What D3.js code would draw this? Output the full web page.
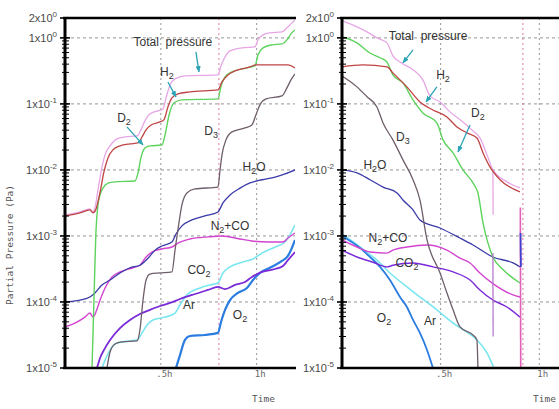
<!DOCTYPE html>
<html>
<head>
<meta charset="utf-8">
<script src="https://cdn.jsdelivr.net/npm/d3@7"></script>
<style>
  body { margin: 0; background: #fff; }
  svg { display: block; font-family: "Liberation Sans", Arial, sans-serif; }
</style>
</head>
<body>
<svg id="chart" width="559" height="409"></svg>
<script>
// tick values / labels
const timeTicks = [0.5, 1];
const timeLabels = [".5h", "1h"];
const pressTicks = [2, 1, 0.1, 0.01, 1e-3, 1e-4, 1e-5];
const pressLabels = [["2x10", "0"], ["1x10", "0"], ["1x10", "-1"], ["1x10", "-2"], ["1x10", "-3"], ["1x10", "-4"], ["1x10", "-5"]];

// ---- left panel: [time (h), partial pressure (Pa)] ----
const leftTotal = [[0,0.00208],[0.078,0.00231],[0.13,0.00256],[0.146,0.00231],[0.156,0.00266],[0.172,0.00498],[0.188,0.0093],[0.209,0.0169],[0.235,0.0231],[0.271,0.0295],[0.313,0.0316],[0.376,0.0327],[0.396,0.0404],[0.417,0.0553],[0.443,0.0705],[0.485,0.0783],[0.511,0.0839],[0.527,0.123],[0.548,0.194],[0.574,0.239],[0.626,0.265],[0.798,0.275],[0.814,0.377],[0.835,0.515],[0.861,0.635],[0.923,0.705],[0.991,0.73],[1.007,0.933],[1.033,1.11],[1.069,1.19],[1.132,1.23],[1.158,1.42],[1.179,1.63],[1.2,1.87]];
const leftH2 = [[0,0.00201],[0.078,0.00223],[0.13,0.00248],[0.146,0.00223],[0.162,0.00256],[0.183,0.00464],[0.203,0.0093],[0.224,0.0152],[0.25,0.0201],[0.287,0.0231],[0.339,0.0248],[0.381,0.0256],[0.402,0.0316],[0.423,0.0404],[0.449,0.048],[0.496,0.0534],[0.516,0.0573],[0.537,0.09],[0.558,0.123],[0.589,0.142],[0.652,0.152],[0.798,0.163],[0.819,0.215],[0.85,0.275],[0.887,0.316],[0.965,0.364],[0.996,0.39],[1.069,0.39],[1.163,0.39],[1.2,0.351]];
const leftD2 = [[0.141,1e-5],[0.151,0.000107],[0.162,0.00123],[0.172,0.00295],[0.183,0.0042],[0.198,0.0053],[0.224,0.0063],[0.261,0.0066],[0.365,0.0068],[0.381,0.009],[0.396,0.0152],[0.417,0.0215],[0.443,0.0231],[0.506,0.0239],[0.522,0.0339],[0.543,0.068],[0.569,0.104],[0.61,0.115],[0.798,0.119],[0.814,0.187],[0.835,0.256],[0.871,0.305],[0.949,0.351],[0.991,0.377],[1.007,0.553],[1.033,0.705],[1.08,0.783],[1.132,0.81],[1.158,0.933],[1.179,1.15],[1.2,1.32]];
const leftD3 = [[0.219,1e-5],[0.235,0.0000175],[0.261,0.0000231],[0.297,0.0000248],[0.376,0.0000257],[0.391,0.0000377],[0.407,0.000107],[0.423,0.000215],[0.443,0.000265],[0.496,0.000275],[0.558,0.000285],[0.574,0.00061],[0.589,0.00123],[0.61,0.00295],[0.636,0.00448],[0.678,0.00515],[0.798,0.0055],[0.809,0.01],[0.819,0.0169],[0.84,0.0285],[0.871,0.0377],[0.939,0.0433],[0.975,0.048],[0.996,0.068],[1.017,0.0966],[1.049,0.119],[1.132,0.132],[1.158,0.175],[1.179,0.231],[1.2,0.285]];
const leftH2O = [[0,0.0001],[0.078,0.000107],[0.13,0.000119],[0.156,0.000137],[0.193,0.000181],[0.235,0.000215],[0.287,0.000275],[0.339,0.00033],[0.391,0.00036],[0.433,0.00046],[0.47,0.00061],[0.506,0.000705],[0.558,0.00081],[0.579,0.00107],[0.61,0.00142],[0.662,0.00175],[0.73,0.00201],[0.798,0.00231],[0.824,0.00316],[0.861,0.00418],[0.913,0.0053],[0.965,0.00635],[1.028,0.0071],[1.096,0.0078],[1.148,0.0087],[1.2,0.01]];
const leftN2CO = [[0,0.000042],[0.052,0.000048],[0.104,0.000059],[0.13,0.000068],[0.146,0.000059],[0.162,0.000071],[0.183,0.000107],[0.209,0.000163],[0.245,0.000239],[0.287,0.000285],[0.355,0.00033],[0.391,0.00036],[0.423,0.00048],[0.454,0.00057],[0.506,0.000635],[0.558,0.00068],[0.589,0.00078],[0.652,0.0009],[0.746,0.00097],[0.819,0.001],[0.913,0.0009],[0.975,0.00084],[1.059,0.00081],[1.137,0.00081],[1.163,0.00093],[1.2,0.00111]];
const leftCO2 = [[0.167,1e-5],[0.183,0.0000142],[0.203,0.0000187],[0.235,0.0000266],[0.287,0.0000403],[0.339,0.0000534],[0.391,0.0000658],[0.443,0.000076],[0.496,0.0000869],[0.548,0.0000966],[0.6,0.000111],[0.678,0.000132],[0.746,0.000152],[0.798,0.000169],[0.835,0.000157],[0.887,0.000181],[0.939,0.000201],[0.975,0.000239],[1.028,0.000285],[1.096,0.000316],[1.137,0.00035],[1.163,0.00043],[1.2,0.00057]];
const leftAr = [[0.193,1e-5],[0.214,0.0000142],[0.235,0.0000187],[0.271,0.0000239],[0.339,0.0000257],[0.376,0.0000266],[0.402,0.000034],[0.428,0.0000449],[0.459,0.0000534],[0.522,0.000059],[0.574,0.000068],[0.6,0.00009],[0.636,0.000128],[0.704,0.000163],[0.757,0.000181],[0.798,0.000194],[0.824,0.000275],[0.861,0.00034],[0.923,0.0004],[0.981,0.000449],[1.028,0.00055],[1.096,0.00068],[1.148,0.00081],[1.174,0.00104],[1.2,0.00147]];
const leftO2 = [[0.579,1e-5],[0.6,0.0000157],[0.626,0.0000266],[0.652,0.0000305],[0.73,0.0000316],[0.798,0.000034],[0.814,0.0000498],[0.835,0.000076],[0.861,0.000107],[0.902,0.000137],[0.949,0.000163],[0.981,0.000215],[1.017,0.000275],[1.069,0.00033],[1.132,0.000418],[1.163,0.000498],[1.184,0.00066],[1.2,0.00087]];

// ---- right panel ----
const rightTotal = [[0,1.81],[0.076,1.47],[0.127,1.23],[0.177,1.0],[0.228,0.84],[0.258,0.534],[0.294,0.43],[0.36,0.33],[0.41,0.231],[0.446,0.132],[0.497,0.107],[0.547,0.0757],[0.613,0.0534],[0.664,0.039],[0.699,0.0305],[0.735,0.0169],[0.765,0.01],[0.836,0.0066],[0.902,0.00533]];
const rightTotalDrop = [[0.765,0.01],[0.766,0.0021]];
const rightH2 = [[0,0.364],[0.106,0.39],[0.228,0.364],[0.258,0.295],[0.329,0.181],[0.395,0.107],[0.461,0.081],[0.532,0.0635],[0.583,0.0448],[0.634,0.0364],[0.684,0.0305],[0.715,0.0181],[0.75,0.0111],[0.801,0.0071],[0.902,0.00464]];
const rightD2 = [[0,1.04],[0.076,0.84],[0.142,0.59],[0.193,0.5],[0.228,0.43],[0.258,0.275],[0.309,0.208],[0.36,0.115],[0.41,0.073],[0.481,0.0515],[0.512,0.0285],[0.563,0.0181],[0.613,0.01],[0.664,0.00635],[0.689,0.00448],[0.715,0.00157],[0.74,0.00078],[0.765,0.00048],[0.816,0.00031],[0.902,0.000194]];
const rightD3 = [[0,0.265],[0.076,0.181],[0.127,0.128],[0.177,0.09],[0.208,0.0515],[0.258,0.0285],[0.309,0.0142],[0.36,0.0071],[0.395,0.00351],[0.431,0.00087],[0.497,0.000275],[0.532,0.000137],[0.563,0.000076],[0.598,0.000042],[0.664,0.0000316],[0.684,0.0000266],[0.689,1e-5]];
const rightH2O = [[0,0.01],[0.076,0.009],[0.142,0.0071],[0.208,0.0055],[0.279,0.00448],[0.309,0.00351],[0.36,0.00248],[0.395,0.00175],[0.497,0.00132],[0.598,0.00093],[0.664,0.00073],[0.765,0.00048],[0.867,0.00039],[0.902,0.00034]];
const rightN2CO = [[0,0.00087],[0.076,0.00068],[0.142,0.00057],[0.228,0.00055],[0.258,0.00061],[0.329,0.00068],[0.431,0.00073],[0.532,0.00061],[0.598,0.00046],[0.649,0.00039],[0.699,0.000275],[0.765,0.00019],[0.867,0.000128],[0.902,0.000119]];
const rightCO2 = [[0,0.00061],[0.076,0.00048],[0.157,0.0004],[0.228,0.00034],[0.258,0.00036],[0.36,0.00039],[0.461,0.00034],[0.563,0.000285],[0.649,0.000215],[0.699,0.000152],[0.765,0.000107],[0.836,0.000084],[0.902,0.000059]];
const rightMauveDrop = [[0.765,0.00055],[0.766,0.00003]];
const rightAr = [[0,0.00107],[0.091,0.00068],[0.177,0.00043],[0.243,0.000275],[0.329,0.000169],[0.395,0.000119],[0.481,0.000076],[0.563,0.000048],[0.634,0.000035],[0.684,0.0000266],[0.735,0.0000169],[0.77,1e-5]];
const rightO2 = [[0,0.001],[0.091,0.00066],[0.142,0.00048],[0.193,0.00034],[0.243,0.000215],[0.294,0.000119],[0.329,0.000084],[0.36,0.0000534],[0.395,0.000034],[0.431,0.0000187],[0.461,1e-5]];
const rightEndSpike = [[0.905,0.00111],[0.907,0.00034]];
const rightEndDrop = [[0.904,0.0027],[0.906,1e-5]];

// labels: [text, time, pressure]  ("_2" = subscript)
const leftNames = [["Total  pressure",0.563,0.87],["H_2",0.532,0.305],["D_2",0.308,0.0614],["D_3",0.762,0.039],["H_2O",0.986,0.0111],["N_2+CO",0.861,0.00141],["CO_2",0.699,0.0003],["Ar",0.647,0.00009],["O_2",0.913,0.0000635]];
const rightNames = [["Total  pressure",0.436,1.07],["H_2",0.512,0.275],["D_2",0.689,0.073],["D_3",0.309,0.0316],["H_2O",0.167,0.0119],["N_2+CO",0.233,0.00093],["CO_2",0.329,0.00039],["O_2",0.213,0.000057],["Ar",0.446,0.0000518]];
// arrows: [t0, p0, t1, p1]
const leftArrows = [[0.683,0.614,0.699,0.305],[0.537,0.215,0.579,0.128],[0.323,0.0448,0.407,0.0239]];
const rightArrows = [[0.36,0.658,0.309,0.418],[0.481,0.181,0.426,0.107],[0.649,0.048,0.588,0.0187]];

const colors = {
  total: "#e6a6e6", h2: "#c04444", d2: "#5cd35c", d3: "#6e5e6a", h2o: "#3a3aa8",
  n2co: "#d244d0", co2: "#7a2ad8", ar: "#7ae6f0", o2: "#2a7ce0"
};

const svg = d3.select("#chart");
const y = d3.scaleLog().domain([1e-5, 2]).range([368, 18]);

const defs = svg.append("defs");
defs.append("marker").attr("id", "arr").attr("viewBox", "0 0 10 10")
  .attr("refX", 9).attr("refY", 5).attr("markerWidth", 5).attr("markerHeight", 5)
  .attr("orient", "auto")
  .append("path").attr("d", "M0,1L10,5L0,9z").attr("fill", "#2aa3b5");

function richText(sel, str, subSize) {
  const parts = str.split(/(_\d)/).filter(s => s.length);
  let shifted = false;
  parts.forEach(p => {
    if (p[0] === "_") {
      sel.append("tspan").attr("dy", 3).attr("font-size", subSize).text(p[1]);
      shifted = true;
    } else {
      sel.append("tspan").attr("dy", shifted ? -3 : 0).text(p);
      shifted = false;
    }
  });
}

function drawPanel(p) {
  const x = d3.scaleLinear().domain([0, p.tMax]).range([p.x0, p.x1]);
  const g = svg.append("g");

  defs.append("clipPath").attr("id", p.id)
    .append("rect").attr("x", p.x0).attr("y", 18).attr("width", p.x1 - p.x0).attr("height", 350);

  // grid
  [1, 0.1, 0.01, 1e-3, 1e-4].forEach(v => {
    g.append("line").attr("x1", p.x0).attr("x2", p.x1).attr("y1", y(v)).attr("y2", y(v))
      .attr("stroke", "#8a8a8a").attr("stroke-width", 0.9).attr("stroke-dasharray", "3,3");
  });
  timeTicks.forEach(t => {
    g.append("line").attr("x1", x(t)).attr("x2", x(t)).attr("y1", 18).attr("y2", 368)
      .attr("stroke", "#8a8a8a").attr("stroke-width", 0.9).attr("stroke-dasharray", "2,3");
  });
  g.append("line").attr("x1", x(p.event)).attr("x2", x(p.event)).attr("y1", 18).attr("y2", 368)
    .attr("stroke", "#e07aa0").attr("stroke-width", 1).attr("stroke-dasharray", "2,3");

  // lines
  const line = d3.line().x(d => x(d[0])).y(d => y(d[1])).curve(d3.curveMonotoneX);
  const lines = g.append("g").attr("clip-path", `url(#${p.id})`);
  p.series.forEach(s => {
    lines.append("path").datum(s.data).attr("fill", "none")
      .attr("stroke", s.color).attr("stroke-width", s.w || 1.3)
      .attr("stroke-linejoin", "round").attr("d", line);
  });

  // frame
  g.append("line").attr("x1", p.x0 - 2).attr("x2", p.x1 + 1).attr("y1", 18).attr("y2", 18)
    .attr("stroke", "#000").attr("stroke-width", 2.6);
  g.append("line").attr("x1", p.x0 - 2).attr("x2", p.x1 + 1).attr("y1", 368).attr("y2", 368)
    .attr("stroke", "#000").attr("stroke-width", 2.6);
  g.append("line").attr("x1", p.x0).attr("x2", p.x0).attr("y1", 17).attr("y2", 369)
    .attr("stroke", "#000").attr("stroke-width", 3);

  // minor ticks
  const minor = [];
  for (let e = -5; e <= 0; e++) for (let k = 2; k <= 9; k++) {
    const v = k * Math.pow(10, e);
    if (v < 2) minor.push(v);
  }
  minor.forEach(v => {
    g.append("line").attr("x1", p.x0 - 3).attr("x2", p.x0 + 4).attr("y1", y(v)).attr("y2", y(v))
      .attr("stroke", "#000").attr("stroke-width", 1);
  });
  pressTicks.forEach(v => {
    g.append("line").attr("x1", p.x0 - 5).attr("x2", p.x0 + 5).attr("y1", y(v)).attr("y2", y(v))
      .attr("stroke", "#000").attr("stroke-width", 1.6);
  });

  // y tick labels
  pressTicks.forEach((v, i) => {
    const t = g.append("text").attr("x", p.x0 - 8).attr("y", y(v) + 4)
      .attr("text-anchor", "end").attr("fill", "#4a4a4a").attr("font-size", 11);
    t.append("tspan").text(pressLabels[i][0]);
    t.append("tspan").attr("dy", -5).attr("font-size", 8).text(pressLabels[i][1]);
  });

  // x axis labels
  const xAxis = d3.axisBottom(x).tickValues(timeTicks)
    .tickFormat((d, i) => timeLabels[i]).tickSize(0).tickPadding(2);
  const ax = g.append("g").attr("transform", "translate(0,369)").call(xAxis);
  ax.select(".domain").remove();
  ax.selectAll("text").attr("fill", "#666").attr("font-size", 9)
    .attr("font-family", "'DejaVu Sans Mono', monospace").attr("dx", 3);

  g.append("text").attr("x", p.timeX).attr("y", 402).attr("fill", "#555")
    .attr("font-size", 9.5).attr("font-family", "'DejaVu Sans Mono', monospace").text("Time");

  // species labels
  p.names.forEach(n => {
    const t = g.append("text").attr("x", x(n[1])).attr("y", y(n[2]) + 4)
      .attr("text-anchor", "middle").attr("fill", "#333").attr("font-size", 12)
      .attr("xml:space", "preserve");
    richText(t, n[0], 9);
  });

  p.arrows.forEach(a => {
    g.append("line").attr("x1", x(a[0])).attr("y1", y(a[1])).attr("x2", x(a[2])).attr("y2", y(a[3]))
      .attr("stroke", "#2aa3b5").attr("stroke-width", 1.3).attr("marker-end", "url(#arr)");
  });
}

drawPanel({
  id: "clipL", x0: 65, x1: 295, tMax: 1.2, event: 0.803, timeX: 252,
  names: leftNames, arrows: leftArrows,
  series: [
    { data: leftAr, color: colors.ar, w: 1.6 },
    { data: leftO2, color: colors.o2, w: 2.2 },
    { data: leftCO2, color: colors.co2, w: 1.8 },
    { data: leftN2CO, color: colors.n2co, w: 1.4 },
    { data: leftH2O, color: colors.h2o },
    { data: leftD3, color: colors.d3 },
    { data: leftD2, color: colors.d2, w: 1.4 },
    { data: leftTotal, color: colors.total },
    { data: leftH2, color: colors.h2 }
  ]
});

drawPanel({
  id: "clipR", x0: 342, x1: 559, tMax: 1.1, event: 0.917, timeX: 533,
  names: rightNames, arrows: rightArrows,
  series: [
    { data: rightAr, color: colors.ar, w: 1.6 },
    { data: rightO2, color: colors.o2, w: 1.8 },
    { data: rightCO2, color: colors.co2, w: 1.4 },
    { data: rightN2CO, color: colors.n2co, w: 1.4 },
    { data: rightH2O, color: colors.h2o },
    { data: rightD3, color: colors.d3 },
    { data: rightD2, color: colors.d2, w: 1.4 },
    { data: rightTotal, color: colors.total },
    { data: rightTotalDrop, color: colors.total },
    { data: rightMauveDrop, color: "#b070c8", w: 1.2 },
    { data: rightH2, color: colors.h2 },
    { data: rightEndDrop, color: "#e060b8", w: 1.6 },
    { data: rightEndSpike, color: "#4040d0", w: 1.8 }
  ]
});

// y axis title
svg.append("text").attr("transform", "translate(13,245) rotate(-90)")
  .attr("text-anchor", "middle").attr("fill", "#555").attr("font-size", 9.5)
  .attr("font-family", "'DejaVu Sans Mono', monospace").text("Partial Pressure (Pa)");
</script>
</body>
</html>
